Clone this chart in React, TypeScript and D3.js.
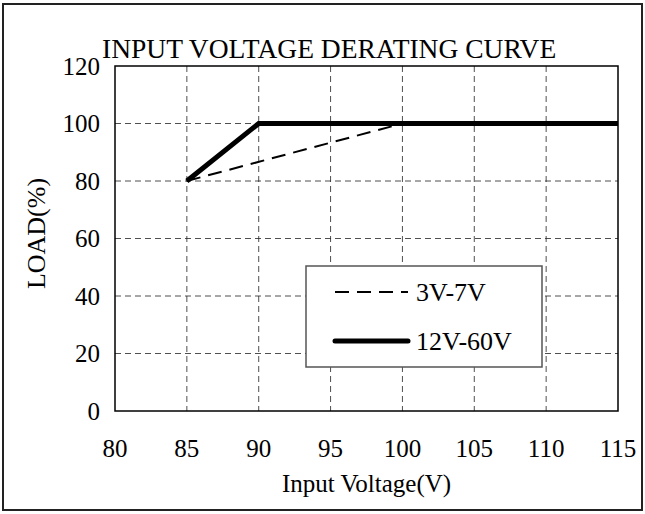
import React, { useEffect, useRef } from 'react';
import * as d3 from 'd3';

const xTicks = [80, 85, 90, 95, 100, 105, 110, 115];
const yTicks = [0, 20, 40, 60, 80, 100, 120];

const lowVoltage = [85, 100, 115];
const lowLoad = [80, 100, 100];
const highVoltage = [85, 90, 115];
const highLoad = [80, 100, 100];

const seriesNames = ['3V-7V', '12V-60V'];

const FONT = '"Liberation Serif", "Times New Roman", serif';

const App: React.FC = () => {
  const svgRef = useRef<SVGSVGElement>(null);

  useEffect(() => {
    if (!svgRef.current) return;
    const width = 645;
    const height = 514;
    const margin = { top: 66, right: 27, bottom: 103, left: 115 };

    const svg = d3.select(svgRef.current);
    svg.selectAll('*').remove();
    svg.attr('width', width).attr('height', height);

    const x = d3.scaleLinear().domain([80, 115]).range([margin.left, width - margin.right]);
    const y = d3.scaleLinear().domain([0, 120]).range([height - margin.bottom, margin.top]);

    // Grid
    const grid = svg.append('g');
    grid.selectAll('.vgrid')
      .data(xTicks.slice(1, -1))
      .enter().append('line')
      .attr('x1', d => x(d)).attr('x2', d => x(d))
      .attr('y1', y(120)).attr('y2', y(0))
      .style('stroke', '#222')
      .style('stroke-width', 0.8)
      .style('stroke-dasharray', '6,4');
    grid.selectAll('.hgrid')
      .data(yTicks.slice(1, -1))
      .enter().append('line')
      .attr('x1', x(80)).attr('x2', x(115))
      .attr('y1', d => y(d)).attr('y2', d => y(d))
      .style('stroke', '#222')
      .style('stroke-width', 0.8)
      .style('stroke-dasharray', '6,4');

    // Plot frame
    svg.append('rect')
      .attr('x', x(80)).attr('y', y(120))
      .attr('width', x(115) - x(80)).attr('height', y(0) - y(120))
      .style('fill', 'none')
      .style('stroke', '#000')
      .style('stroke-width', 1.5);

    // Tick labels
    svg.append('g').selectAll('text')
      .data(xTicks)
      .enter().append('text')
      .attr('x', d => x(d))
      .attr('y', 457)
      .attr('text-anchor', 'middle')
      .style('font-family', FONT)
      .style('font-size', '25px')
      .text(d => d);

    svg.append('g').selectAll('text')
      .data(yTicks)
      .enter().append('text')
      .attr('x', x(80) - 15)
      .attr('y', d => y(d))
      .attr('dy', '0.35em')
      .attr('text-anchor', 'end')
      .style('font-family', FONT)
      .style('font-size', '25px')
      .text(d => d);

    // Axis titles
    svg.append('text')
      .attr('x', (x(80) + x(115)) / 2)
      .attr('y', 492)
      .attr('text-anchor', 'middle')
      .style('font-family', FONT)
      .style('font-size', '25px')
      .text('Input Voltage(V)');

    svg.append('text')
      .attr('transform', `translate(45,${(y(0) + y(120)) / 2 - 5}) rotate(-90)`)
      .attr('text-anchor', 'middle')
      .style('font-family', FONT)
      .style('font-size', '26px')
      .text('LOAD(%)');

    svg.append('text')
      .attr('x', 102)
      .attr('y', 58)
      .style('font-family', FONT)
      .style('font-size', '27.5px')
      .text('INPUT VOLTAGE DERATING CURVE');

    // Lines
    const line = d3.line<[number, number]>()
      .x(d => x(d[0]))
      .y(d => y(d[1]));

    const lowData = lowVoltage.map((v, i) => [v, lowLoad[i]] as [number, number]);
    const highData = highVoltage.map((v, i) => [v, highLoad[i]] as [number, number]);

    svg.append('path')
      .attr('d', line(lowData) || '')
      .style('fill', 'none')
      .style('stroke', '#000')
      .style('stroke-width', 2)
      .style('stroke-dasharray', '14,8');

    svg.append('path')
      .attr('d', line(highData) || '')
      .style('fill', 'none')
      .style('stroke', '#000')
      .style('stroke-width', 5)
      .style('stroke-linejoin', 'miter');

    // Legend
    const legend = svg.append('g').attr('transform', 'translate(306,266)');
    legend.append('rect')
      .attr('width', 236).attr('height', 101)
      .style('fill', '#fff')
      .style('stroke', '#555')
      .style('stroke-width', 1.5);

    const rows = [
      { name: seriesNames[0], width: 2, dash: '14,8', cap: 'butt' },
      { name: seriesNames[1], width: 5, dash: null, cap: 'round' },
    ];
    rows.forEach((r, i) => {
      const ly = 26 + i * 49;
      legend.append('line')
        .attr('x1', 29).attr('x2', 102)
        .attr('y1', ly).attr('y2', ly)
        .style('stroke', '#000')
        .style('stroke-width', r.width)
        .style('stroke-linecap', r.cap)
        .style('stroke-dasharray', r.dash);
      legend.append('text')
        .attr('x', 110)
        .attr('y', ly)
        .attr('dy', '0.36em')
        .style('font-family', FONT)
        .style('font-size', '26px')
        .text(r.name);
    });

    // outer frame, drawn last so nothing covers it
    svg.append('rect')
      .attr('x', 3).attr('y', 4)
      .attr('width', width - 6).attr('height', height - 8)
      .style('fill', 'none')
      .style('stroke', '#222')
      .style('stroke-width', 2);
  }, []);

  return (
    <svg
      ref={svgRef}
      style={{ display: 'block', position: 'absolute', left: 0, top: 0, background: '#fff' }}
    />
  );
};

export default App;
